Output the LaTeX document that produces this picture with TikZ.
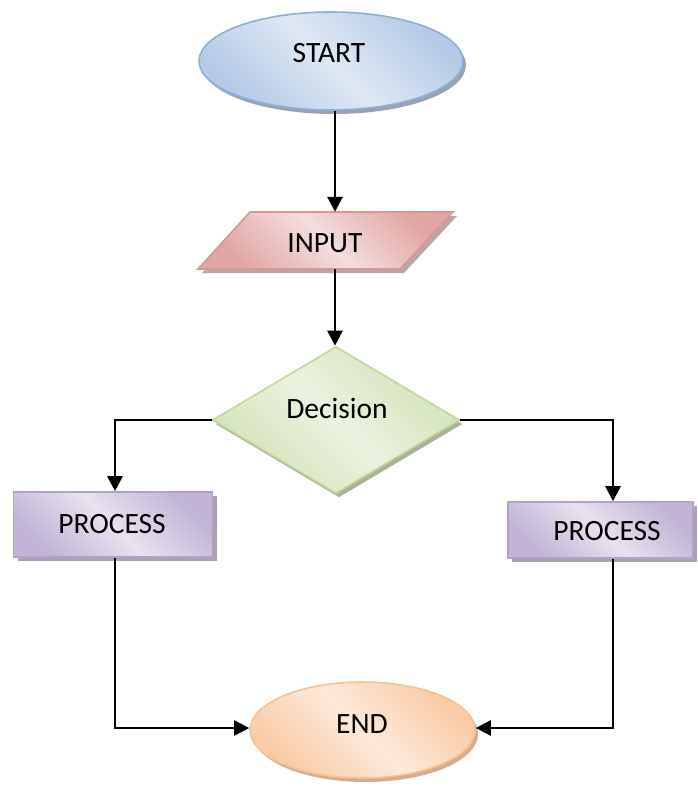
\documentclass[tikz,border=0pt]{standalone}
\usepackage{fontspec}
\setmainfont{Carlito}
\usetikzlibrary{shapes.geometric,arrows.meta,shadows,calc}
\definecolor{stB}{RGB}{141,175,218}
\definecolor{stD}{RGB}{180,202,230}
\definecolor{stL}{RGB}{223,232,244}
\definecolor{stS}{RGB}{140,152,172}
\definecolor{inB}{RGB}{217,150,148}
\definecolor{inD}{RGB}{225,165,163}
\definecolor{inL}{RGB}{243,222,222}
\definecolor{inS}{RGB}{180,155,155}
\definecolor{deB}{RGB}{195,214,155}
\definecolor{deD}{RGB}{210,226,184}
\definecolor{deL}{RGB}{236,242,224}
\definecolor{deS}{RGB}{160,172,138}
\definecolor{prB}{RGB}{179,162,199}
\definecolor{prD}{RGB}{193,180,214}
\definecolor{prL}{RGB}{231,226,238}
\definecolor{prS}{RGB}{160,152,170}
\definecolor{enB}{RGB}{250,192,144}
\definecolor{enD}{RGB}{249,203,165}
\definecolor{enL}{RGB}{253,233,217}
\definecolor{enS}{RGB}{205,165,135}
\tikzset{
  x=1pt, y=-1pt,
  lbl/.style={font=\fontsize{29.5}{35}\selectfont, inner sep=0pt},
  shp/.style={inner sep=0pt, line width=1.6pt},
  stshape/.style={shp, ellipse, draw=stB, top color=stD, bottom color=stD, middle color=stL, shading angle=-45,
     drop shadow={shadow xshift=3pt, shadow yshift=-4pt, fill=stS, opacity=0.9}},
  inshape/.style={shp, draw=inB, top color=inD, bottom color=inD, middle color=inL, shading angle=-45,
     drop shadow={shadow xshift=4pt, shadow yshift=-4pt, fill=inS, opacity=0.9}},
  deshape/.style={shp, diamond, draw=deB, top color=deD, bottom color=deD, middle color=deL, shading angle=-45,
     drop shadow={shadow xshift=3pt, shadow yshift=-4pt, fill=deS, opacity=0.9}},
  prshape/.style={shp, rectangle, draw=prB, top color=prD, bottom color=prD, middle color=prL, shading angle=-45,
     drop shadow={shadow xshift=4pt, shadow yshift=-4pt, fill=prS, opacity=0.9}},
  enshape/.style={shp, ellipse, draw=enB, top color=enD, bottom color=enD, middle color=enL, shading angle=-45,
     drop shadow={shadow xshift=3pt, shadow yshift=-4pt, fill=enS, opacity=0.9}},
  conn/.style={line width=2.7pt, -{Triangle[length=15pt,width=15pt]}}
}
\begin{document}
\begin{tikzpicture}
\useasboundingbox (0,0) rectangle (697,787);
% START
\node[stshape, minimum width=264pt, minimum height=98pt] (start) at (331,61) {};
\node[lbl] (tstart) at (329,53) {START};
% INPUT parallelogram
\node[inner sep=0pt, minimum width=10pt, minimum height=57pt] (inp) at (335,240.5) {};
\path[inshape] (250,212) coordinate (p1) -- (453,212) coordinate (p2) -- (400,269) coordinate (p3) -- (198,269) coordinate (p4) -- cycle;
\node[lbl] (tinp) at (325,243) {INPUT};
% Decision
\node[deshape, minimum width=247pt, minimum height=147pt] (dec) at (336,420) {};
\node[lbl] (tdec) at (337,408) {Decision};
% PROCESS boxes
\node[prshape, minimum width=199pt, minimum height=65pt] (procL) at (113,524.5) {};
\node[lbl] (tprocL) at (112,524) {PROCESS};
\node[prshape, minimum width=185pt, minimum height=56pt] (procR) at (600.5,530) {};
\node[lbl] (tprocR) at (607,531) {PROCESS};
% END
\node[enshape, minimum width=225pt, minimum height=96pt] (end) at (362.5,730) {};
\node[lbl] (tend) at (362,724) {END};
% connectors
\coordinate (rtop) at ($(procR.north)+(12.5,0)$);
\coordinate (rbot) at ($(procR.south)+(12.5,0)$);
\coordinate (ltop) at ($(procL.north)+(2,0)$);
\coordinate (lbot) at ($(procL.south)+(2,0)$);
\draw[conn] (start.south -| inp.north) -- (inp.north);
\draw[conn] (inp.south) -- (inp.south |- dec.north);
\draw[conn] (dec.west) -| (ltop);
\draw[conn] (dec.east) -| (rtop);
\draw[conn] (lbot) |- ($(end.west)+(0,-2)$);
\draw[conn] (rbot) |- ($(end.east)+(0,-2)$);
\end{tikzpicture}
\end{document}
